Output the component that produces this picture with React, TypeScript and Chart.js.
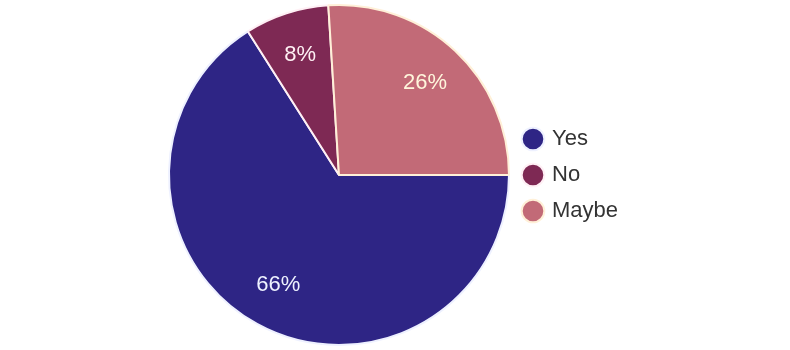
import React, { useEffect, useRef } from "react";
import { Chart, registerables } from "chart.js";

Chart.register(...registerables);

const categories = ["Yes", "No", "Maybe"];
const values = [66, 8, 26];
const colors = ["#2E2585", "#7E2954", "#C26A77"];
const borderColors = ["#eef1ff", "#fff0f5", "#fff0d8"];
const labelColors = ["#eef2ff", "#fff0f4", "#fff6dc"];

const LEGEND_LEFT = 511;

const labelPlugin = {
  id: "sliceLabels",
  afterLayout(chart: any) {
    if (chart.legend) {
      const dx = LEGEND_LEFT - chart.legend.left;
      chart.legend.left += dx;
      chart.legend.right += dx;
    }
  },
  afterDatasetsDraw(chart: any) {
    const ctx = chart.ctx;
    const meta = chart.getDatasetMeta(0);
    const total = values.reduce((a, b) => a + b, 0);
    ctx.save();
    ctx.font = "22px 'Liberation Sans', Arial, sans-serif";
    ctx.textAlign = "center";
    ctx.textBaseline = "middle";
    meta.data.forEach((arc: any, i: number) => {
      const { x, y, startAngle, endAngle, outerRadius } = arc.getProps(
        ["x", "y", "startAngle", "endAngle", "outerRadius"],
        true
      );
      const mid = (startAngle + endAngle) / 2;
      const r = outerRadius * 0.74;
      ctx.fillStyle = labelColors[i];
      ctx.fillText(
        Math.round((values[i] / total) * 100) + "%",
        x + Math.cos(mid) * r,
        y + Math.sin(mid) * r
      );
    });
    ctx.restore();
  },
};

export default function App() {
  const ref = useRef<HTMLCanvasElement>(null);
  useEffect(() => {
    document.body.style.margin = "0";
    const chart = new Chart(ref.current!, {
      type: "pie",
      data: {
        labels: categories,
        datasets: [
          {
            data: values,
            backgroundColor: colors,
            borderColor: borderColors,
            borderWidth: 2,
          },
        ],
      },
      options: {
        animation: false,
        responsive: true,
        maintainAspectRatio: false,
        rotation: 90,
        layout: { padding: { left: 155, right: 150, top: 4, bottom: 4 } },
        plugins: {
          tooltip: { enabled: false },
          legend: {
            position: "right",
            labels: {
              usePointStyle: true,
              pointStyle: "circle",
              boxWidth: 16,
              boxHeight: 16,
              padding: 14,
              color: "#333",
              font: { size: 22, family: "'Liberation Sans', Arial, sans-serif" },
            },
          },
        },
      },
      plugins: [labelPlugin],
    });
    return () => chart.destroy();
  }, []);
  return (
    <div style={{ width: 790, height: 350, position: "relative" }}>
      <canvas ref={ref} />
    </div>
  );
}
